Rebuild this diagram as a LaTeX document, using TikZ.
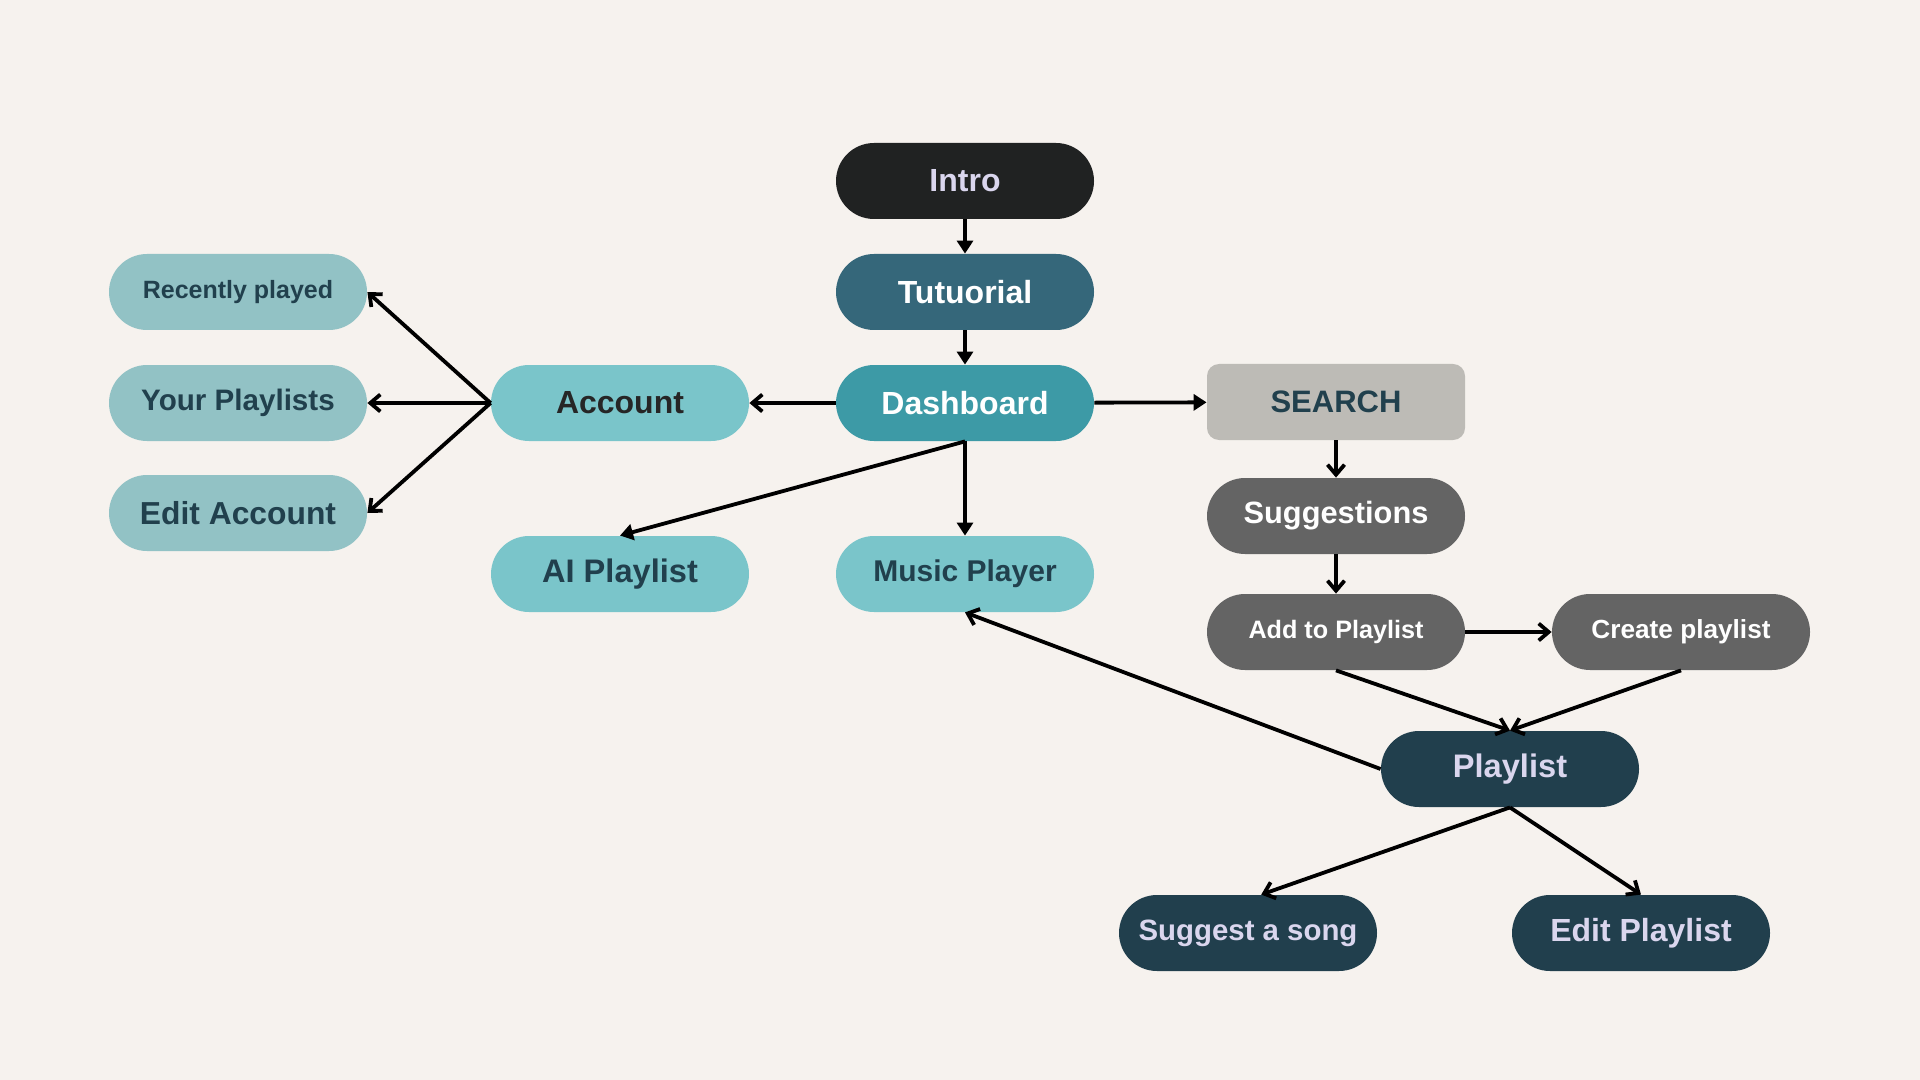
\documentclass[tikz,border=0pt]{standalone}
\usepackage{fontspec}
\setmainfont{Liberation Sans}
\usepackage{xcolor}
\usepackage{tikz}
\usetikzlibrary{arrows.meta,positioning}

\definecolor{bgcream}{HTML}{F6F2EE}
\definecolor{introblack}{HTML}{202222}
\definecolor{lavender}{HTML}{DAD6EE}
\definecolor{tutblue}{HTML}{35677A}
\definecolor{dashteal}{HTML}{3D9AA6}
\definecolor{lightteal}{HTML}{7AC5CA}
\definecolor{paleteal}{HTML}{92C2C5}
\definecolor{darkteal}{HTML}{21404D}
\definecolor{searchgrey}{HTML}{BDBBB6}
\definecolor{midgrey}{HTML}{646464}
\definecolor{navy}{HTML}{213F4D}

\begin{document}
\begin{tikzpicture}[
    x=0.5pt, y=-0.5pt,
    pill/.style={rectangle, rounded corners=19pt, minimum width=129pt, minimum height=38pt, inner sep=0pt, align=center},
    txt/.style={font=\bfseries\fontsize{#1}{#1}\selectfont},
    fillarrow/.style={-{Triangle[length=6.5pt,width=8pt]}, line width=1.9pt},
    openarrow/.style={-{Straight Barb[length=5pt,width=8.5pt]}, line width=1.9pt}
]
    \fill[bgcream] (0,0) rectangle (1920,1080);

    % main column
    \node[pill, fill=introblack, text=lavender, txt=16] (intro) at (965,181) {Intro};
    \node[pill, fill=tutblue, text=white, txt=16] (tutorial) at (965,292) {Tutuorial};
    \node[pill, fill=dashteal, text=white, txt=16] (dashboard) at (965,403) {Dashboard};
    \node[pill, fill=lightteal, text=black!85, txt=16] (account) at (620,403) {Account};
    \node[pill, fill=lightteal, text=darkteal, txt=16.3] (aiplaylist) at (620,574) {AI Playlist};
    \node[pill, fill=lightteal, text=darkteal, txt=15] (musicplayer) at (965,574) {Music Player};

    % account branch
    \node[pill, fill=paleteal, text=darkteal, txt=12.5] (recent) at (238,292) {Recently played};
    \node[pill, fill=paleteal, text=darkteal, txt=14.8] (yourlists) at (238,403) {Your Playlists};
    \node[pill, fill=paleteal, text=darkteal, txt=15.9] (editaccount) at (238,513) {Edit Account};

    % search branch
    \node[pill, rounded corners=6pt, fill=searchgrey, text=darkteal, txt=15.5] (search) at (1336,402) {SEARCH};
    \node[pill, fill=midgrey, text=white, txt=15.4] (suggestions) at (1336,516) {Suggestions};
    \node[pill, fill=midgrey, text=white, txt=12.6] (addto) at (1336,632) {Add to Playlist};
    \node[pill, fill=midgrey, text=white, txt=13.1] (create) at (1681,632) {Create playlist};

    % playlist
    \node[pill, fill=navy, text=lavender, txt=16.3] (playlist) at (1510,769) {Playlist};
    \node[pill, fill=navy, text=lavender, txt=14.7] (suggestsong) at (1248,933) {Suggest a song};
    \node[pill, fill=navy, text=lavender, txt=16] (editplaylist) at (1641,933) {Edit Playlist};

    \draw[fillarrow] (intro) -- (tutorial);
    \draw[fillarrow] (tutorial) -- (dashboard);
    \draw[openarrow] (dashboard) -- (account);
    \draw[fillarrow] (dashboard) -- (search);
    \draw[fillarrow] (dashboard.south) -- (aiplaylist.north);
    \draw[fillarrow] (dashboard.south) -- (musicplayer.north);

    \draw[openarrow] (account.west) -- (recent.east);
    \draw[openarrow] (account.west) -- (yourlists.east);
    \draw[openarrow] (account.west) -- (editaccount.east);

    \draw[openarrow] (search) -- (suggestions);
    \draw[openarrow] (suggestions) -- (addto);
    \draw[openarrow] (addto) -- (create);
    \draw[openarrow] (addto.south) -- (playlist.north);
    \draw[openarrow] (create.south) -- (playlist.north);

    \draw[openarrow] (playlist.west) -- (musicplayer.south);
    \draw[openarrow] (playlist.south) -- (suggestsong.71);
    \draw[openarrow] (playlist.south) -- (editplaylist.north);
\end{tikzpicture}
\end{document}
